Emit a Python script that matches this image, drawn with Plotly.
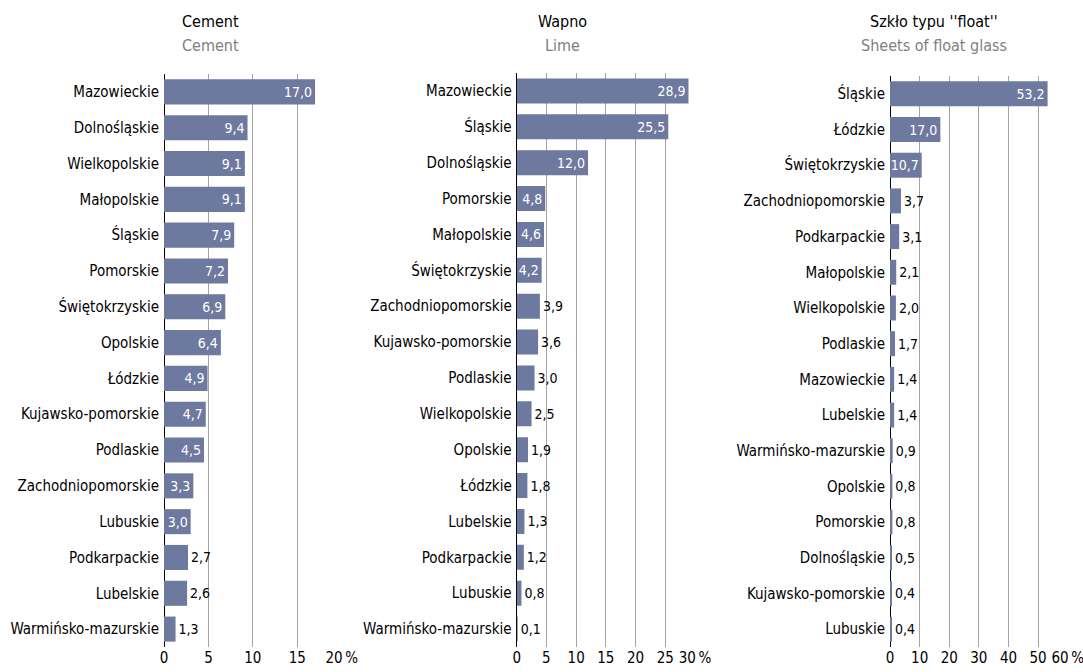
import plotly.graph_objects as go

# ---- data ----
cement_regions = ["Mazowieckie", "Dolnośląskie", "Wielkopolskie", "Małopolskie", "Śląskie",
                  "Pomorskie", "Świętokrzyskie", "Opolskie", "Łódzkie", "Kujawsko-pomorskie",
                  "Podlaskie", "Zachodniopomorskie", "Lubuskie", "Podkarpackie", "Lubelskie",
                  "Warmińsko-mazurskie"]
cement_values = [17.0, 9.4, 9.1, 9.1, 7.9, 7.2, 6.9, 6.4, 4.9, 4.7, 4.5, 3.3, 3.0, 2.7, 2.6, 1.3]

lime_regions = ["Mazowieckie", "Śląskie", "Dolnośląskie", "Pomorskie", "Małopolskie",
                "Świętokrzyskie", "Zachodniopomorskie", "Kujawsko-pomorskie", "Podlaskie",
                "Wielkopolskie", "Opolskie", "Łódzkie", "Lubelskie", "Podkarpackie", "Lubuskie",
                "Warmińsko-mazurskie"]
lime_values = [28.9, 25.5, 12.0, 4.8, 4.6, 4.2, 3.9, 3.6, 3.0, 2.5, 1.9, 1.8, 1.3, 1.2, 0.8, 0.1]

glass_regions = ["Śląskie", "Łódzkie", "Świętokrzyskie", "Zachodniopomorskie", "Podkarpackie",
                 "Małopolskie", "Wielkopolskie", "Podlaskie", "Mazowieckie", "Lubelskie",
                 "Warmińsko-mazurskie", "Opolskie", "Pomorskie", "Dolnośląskie",
                 "Kujawsko-pomorskie", "Lubuskie"]
glass_values = [53.2, 17.0, 10.7, 3.7, 3.1, 2.1, 2.0, 1.7, 1.4, 1.4, 0.9, 0.8, 0.8, 0.5, 0.4, 0.4]

titles_pl = ["Cement", "Wapno", "Szkło typu ''float''"]
titles_en = ["Cement", "Lime", "Sheets of float glass"]

cement_ticks = [0, 5, 10, 15, 20]
cement_ticktext = ["0", "5", "10", "15", "20\u2009%"]
lime_ticks = [0, 5, 10, 15, 20, 25, 30]
lime_ticktext = ["0", "5", "10", "15", "20", "25", "30\u2009%"]
glass_ticks = [0, 10, 20, 30, 40, 50, 60]
glass_ticktext = ["0", "10", "20", "30", "40", "50", "60\u2009%"]

# ---- style ----
W, H = 1083, 672
FONT = "Liberation Sans Narrow, DejaVu Sans Condensed, Roboto Condensed, Arial Narrow, sans-serif"
BAR = "#6e79a0"
GRID = "#a3a3a3"

panels = [
    dict(cats=cement_regions, vals=cement_values, ticks=cement_ticks, ticktext=cement_ticktext,
         rng=[0, 20.02], x0=164, x1=341.9, top=74, bottom=647, thr=2.9, tx=210),
    dict(cats=lime_regions, vals=lime_values, ticks=lime_ticks, ticktext=lime_ticktext,
         rng=[0, 30.03], x0=516.7, x1=695.2, top=73, bottom=647, thr=4.0, tx=562),
    dict(cats=glass_regions, vals=glass_values, ticks=glass_ticks, ticktext=glass_ticktext,
         rng=[0, 60.06], x0=890, x1=1067.9, top=76, bottom=647, thr=5.0, tx=934),
]

fig = go.Figure()
annotations = []
for i, p in enumerate(panels, start=1):
    sfx = "" if i == 1 else str(i)
    labels = [f"{v:.1f}".replace(".", ",") for v in p["vals"]]
    positions = ["inside" if v >= p["thr"] else "outside" for v in p["vals"]]
    colors = ["white" if pos == "inside" else "black" for pos in positions]
    fig.add_trace(go.Bar(
        x=p["vals"], y=p["cats"], orientation="h",
        marker=dict(color=BAR, line=dict(width=0)),
        text=labels, textposition=positions, insidetextanchor="end", textangle=0,
        textfont=dict(family=FONT, size=14, color=colors),
        constraintext="none", cliponaxis=False,
        xaxis="x" + sfx, yaxis="y" + sfx, showlegend=False, hoverinfo="skip",
    ))
    fig.layout["xaxis" + sfx] = dict(
        domain=[p["x0"] / W, p["x1"] / W], range=p["rng"], anchor="y" + sfx,
        tickvals=p["ticks"], ticktext=p["ticktext"], showgrid=True, gridcolor=GRID,
        gridwidth=1.2, zeroline=True, zerolinecolor="black", zerolinewidth=1,
        showline=False, ticks="", automargin=False, fixedrange=True,
        ticklabeloverflow="allow",
        tickfont=dict(family=FONT, size=15, color="black"),
    )
    fig.layout["yaxis" + sfx] = dict(
        domain=[(H - p["bottom"]) / H, (H - p["top"]) / H], anchor="x" + sfx,
        categoryorder="array", categoryarray=p["cats"], autorange="reversed",
        showgrid=False, zeroline=False, showline=False, ticks="", automargin=False,
        fixedrange=True,
        tickfont=dict(family=FONT, size=15, color="black"), ticklabelstandoff=4,
    )
    annotations.append(dict(text=titles_pl[i - 1], x=p["tx"] / W, y=1 - 22 / H, xref="paper",
                            yref="paper", showarrow=False, xanchor="center", yanchor="middle",
                            font=dict(family=FONT, size=16, color="black")))
    annotations.append(dict(text=titles_en[i - 1], x=p["tx"] / W, y=1 - 46 / H, xref="paper",
                            yref="paper", showarrow=False, xanchor="center", yanchor="middle",
                            font=dict(family=FONT, size=16, color="#808080")))

fig.update_layout(
    width=W, height=H, margin=dict(l=0, r=0, t=0, b=0),
    paper_bgcolor="white", plot_bgcolor="white", bargap=0.3,
    annotations=annotations, font=dict(family=FONT),
)
fig.write_html("out.html", config={"displayModeBar": False},
               post_script="document.body.style.margin='0';document.body.style.overflow='hidden';")
